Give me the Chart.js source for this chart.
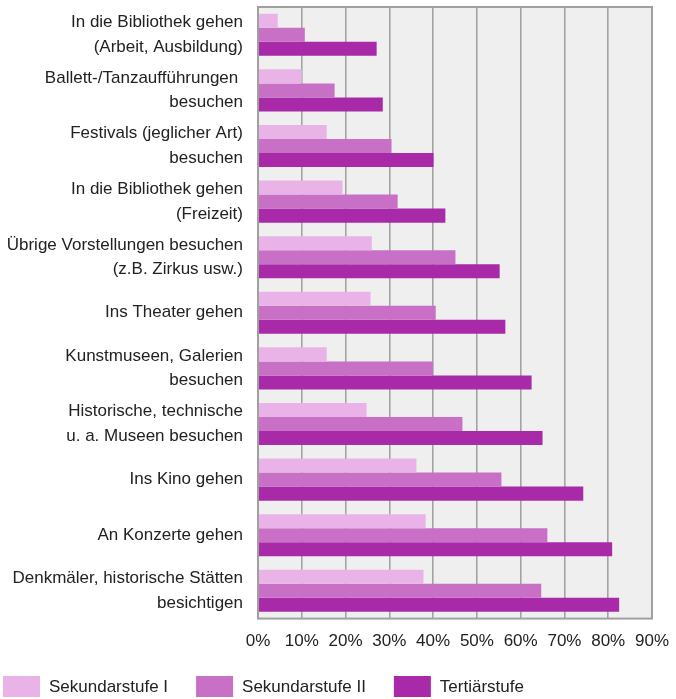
<!DOCTYPE html>
<html>
<head>
<meta charset="utf-8">
<script src="https://cdn.jsdelivr.net/npm/chart.js@4/dist/chart.umd.min.js"></script>
<style>
  html, body { margin: 0; padding: 0; background: #ffffff; }
  #wrap { width: 676px; height: 699px; position: relative; }
</style>
</head>
<body>
<div id="wrap"><canvas id="c" width="676" height="699"></canvas></div>
<script>
const categories = [
  ["In die Bibliothek gehen", "(Arbeit, Ausbildung)"],
  ["Ballett-/Tanzaufführungen ", "besuchen"],
  ["Festivals (jeglicher Art)", "besuchen"],
  ["In die Bibliothek gehen", "(Freizeit)"],
  ["Übrige Vorstellungen besuchen", "(z.B. Zirkus usw.)"],
  "Ins Theater gehen",
  ["Kunstmuseen, Galerien", "besuchen"],
  ["Historische, technische", "u. a. Museen besuchen"],
  "Ins Kino gehen",
  "An Konzerte gehen",
  ["Denkmäler, historische Stätten", "besichtigen"]
];
const seriesNames = ["Sekundarstufe I", "Sekundarstufe II", "Tertiärstufe"];
const sekundarstufeI  = [4.5, 10.0, 15.7, 19.3, 26.0, 25.7, 15.7, 24.8, 36.2, 38.3, 37.8];
const sekundarstufeII = [10.7, 17.5, 30.5, 31.9, 45.1, 40.6, 40.0, 46.7, 55.6, 66.1, 64.7];
const tertiaerstufe   = [27.1, 28.5, 40.1, 42.8, 55.2, 56.5, 62.5, 65.0, 74.3, 80.9, 82.5];
const xTicks = [0, 10, 20, 30, 40, 50, 60, 70, 80, 90];

const colors = ["#e9b3e8", "#c870c6", "#a82aa8"];
const FONT = "'Liberation Sans', Arial, sans-serif";

const bgPlugin = {
  id: 'plotBg',
  beforeDraw(chart) {
    const a = chart.chartArea, ctx = chart.ctx;
    ctx.save();
    ctx.fillStyle = '#efefef';
    ctx.fillRect(a.left, a.top, a.right - a.left, a.bottom - a.top);
    ctx.restore();
  },
  afterDatasetsDraw(chart) {
    const a = chart.chartArea, ctx = chart.ctx;
    ctx.save();
    ctx.strokeStyle = '#a0a0a0';
    ctx.lineWidth = 2;
    ctx.strokeRect(a.left, a.top, a.right - a.left, a.bottom - a.top);
    ctx.restore();
  }
};

const legendPlugin = {
  id: 'customLegend',
  afterDraw(chart) {
    const ctx = chart.ctx;
    ctx.save();
    ctx.font = "17px " + FONT;
    ctx.textBaseline = 'middle';
    ctx.textAlign = 'left';
    let x = 3;
    const y = 676, bw = 37, bh = 21;
    chart.data.datasets.forEach(ds => {
      ctx.fillStyle = ds.backgroundColor;
      ctx.fillRect(x, y, bw, bh);
      ctx.fillStyle = '#222222';
      const tx = x + bw + 9;
      ctx.fillText(ds.label, tx, y + bh / 2 + 1);
      x = tx + ctx.measureText(ds.label).width + 28;
    });
    ctx.restore();
  }
};

const datasets = [sekundarstufeI, sekundarstufeII, tertiaerstufe].map((d, i) => ({
  label: seriesNames[i],
  data: d,
  backgroundColor: colors[i],
  borderWidth: 0,
  categoryPercentage: 0.757,
  barPercentage: 1.0
}));

new Chart(document.getElementById('c'), {
  type: 'bar',
  data: { labels: categories, datasets },
  options: {
    indexAxis: 'y',
    responsive: false,
    animation: false,
    devicePixelRatio: 1,
    layout: { padding: { left: 0, right: 24, top: 7, bottom: 34 } },
    plugins: {
      legend: { display: false },
      tooltip: { enabled: false }
    },
    scales: {
      x: {
        min: 0, max: 90,
        afterBuildTicks(scale) { scale.ticks = xTicks.map(v => ({ value: v })); },
        afterFit(scale) { scale.paddingLeft = 0; scale.paddingRight = 0; },
        ticks: {
          callback: v => v + '%',
          color: '#222222',
          font: { family: FONT, size: 17 },
          padding: 13,
          maxRotation: 0,
          autoSkip: false
        },
        grid: { color: '#a3a3a3', lineWidth: 1.6, drawTicks: false },
        border: { display: false }
      },
      y: {
        afterFit(scale) { scale.width = 258; scale.paddingTop = 0; scale.paddingBottom = 0; },
        ticks: {
          color: '#222222',
          font: { family: FONT, size: 17, lineHeight: 1.45 },
          padding: 15,
          autoSkip: false
        },
        grid: { display: false, drawTicks: false },
        border: { display: false }
      }
    }
  },
  plugins: [bgPlugin, legendPlugin]
});
</script>
</body>
</html>
